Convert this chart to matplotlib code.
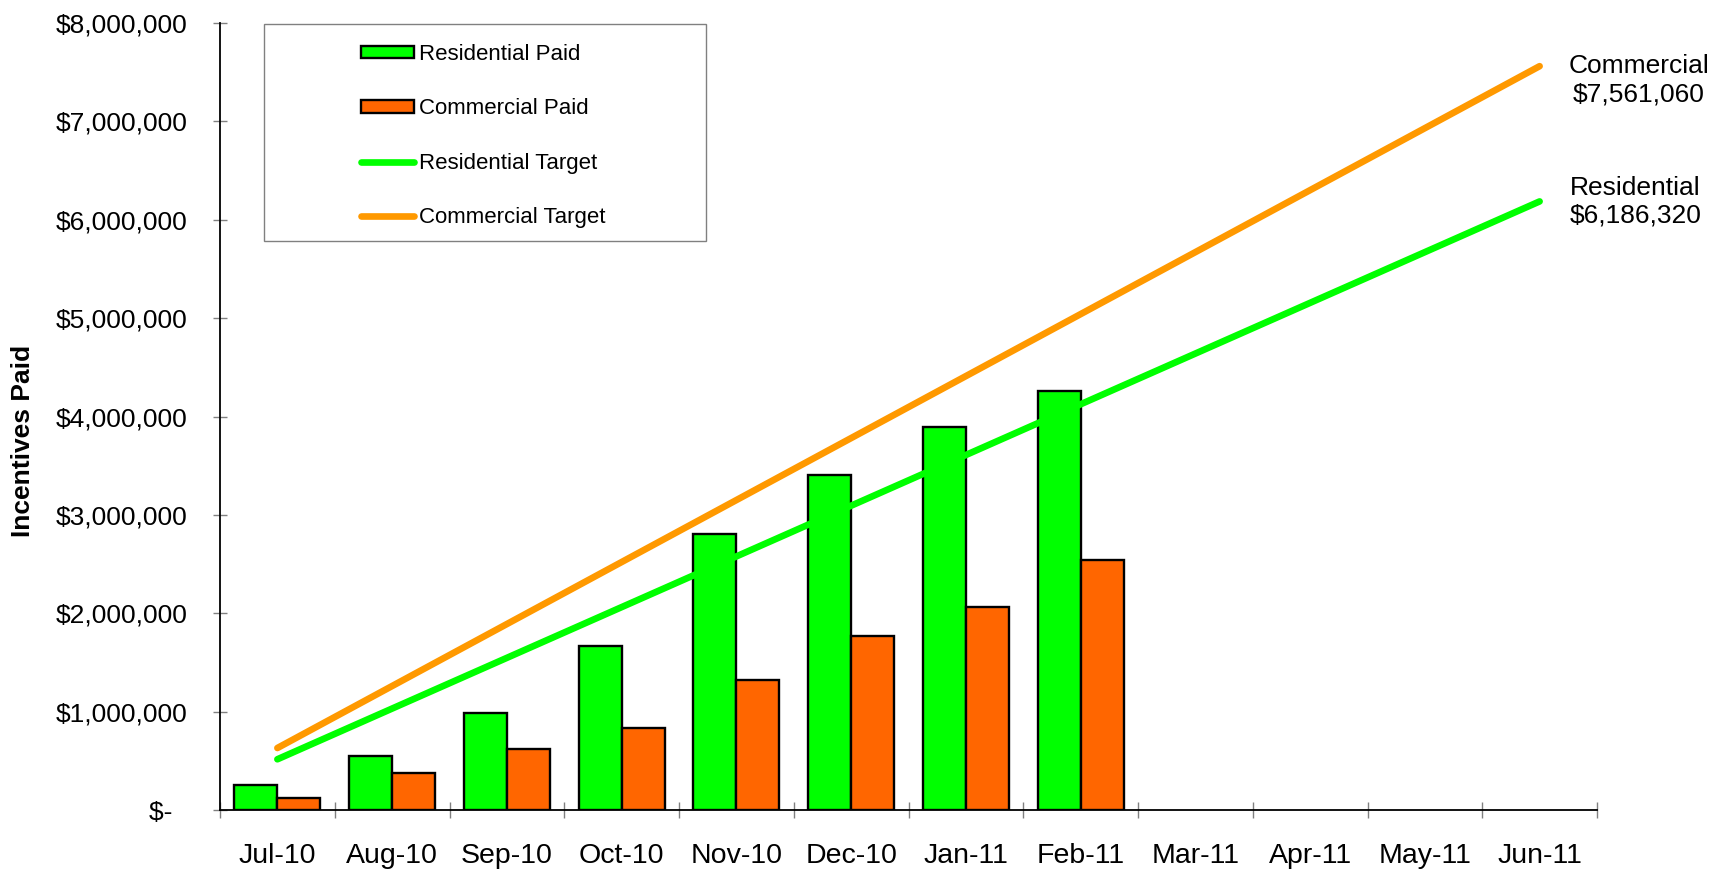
import numpy as np
import matplotlib.pyplot as plt
import matplotlib as mpl
from matplotlib.patches import Rectangle

plt.rcParams["font.family"] = ["Liberation Sans", "DejaVu Sans"]

months = ["Jul-10", "Aug-10", "Sep-10", "Oct-10", "Nov-10", "Dec-10",
          "Jan-11", "Feb-11", "Mar-11", "Apr-11", "May-11", "Jun-11"]

residential_paid = [257000, 547000, 983000, 1669000, 2804000, 3405000,
                    3889000, 4257000]
commercial_paid = [125000, 378000, 625000, 831000, 1324000, 1767000,
                   2064000, 2537000]

residential_target = [515527, 1031053, 1546580, 2062107, 2577633, 3093160,
                      3608687, 4124213, 4639740, 5155267, 5670793, 6186320]
commercial_target = [630088, 1260177, 1890265, 2520353, 3150442, 3780530,
                     4410618, 5040707, 5670795, 6300883, 6930972, 7561060]

GREEN = "#00FF00"
ORANGE = "#FF9900"
RED_ORANGE = "#FF6600"


def money(v, pos=None):
    if v == 0:
        return "$-  "
    return "${:,.0f}".format(v)


def main():
    fig = plt.figure(figsize=(17.28, 8.72), dpi=100)
    ax = fig.add_axes([220 / 1728, 1 - 810 / 872, 1377 / 1728, 787 / 872])

    x = np.arange(len(months))
    xb = np.arange(len(residential_paid))
    w = 0.375

    ax.bar(xb - w / 2, residential_paid, w, color=GREEN, edgecolor="black",
           linewidth=1.7, label="Residential Paid", zorder=2)
    ax.bar(xb + w / 2, commercial_paid, w, color=RED_ORANGE, edgecolor="black",
           linewidth=1.7, label="Commercial Paid", zorder=2)
    ax.plot(x, residential_target, color=GREEN, lw=4.8,
            solid_capstyle="round", label="Residential Target", zorder=3)
    ax.plot(x, commercial_target, color=ORANGE, lw=4.8,
            solid_capstyle="round", label="Commercial Target", zorder=3)

    ax.annotate("Commercial\n${:,}".format(commercial_target[-1]),
                (x[-1], commercial_target[-1]), xytext=(99, -14),
                textcoords="offset pixels", ha="center", va="center",
                multialignment="center", fontsize=19)
    ax.annotate("Residential\n${:,}".format(residential_target[-1]),
                (x[-1], residential_target[-1]), xytext=(96, 0),
                textcoords="offset pixels", ha="center", va="center",
                multialignment="center", fontsize=19)

    ax.set_xlim(-0.5, len(months) - 0.5)
    ax.set_ylim(0, 8000000)
    ax.set_yticks(np.arange(0, 8000001, 1000000))
    ax.yaxis.set_major_formatter(mpl.ticker.FuncFormatter(money))

    ax.set_xticks(np.arange(-0.5, len(months)), [""] * (len(months) + 1))
    ax.set_xticks(x, months, minor=True)

    for s in ["top", "right"]:
        ax.spines[s].set_visible(False)
    ax.spines["left"].set_linewidth(1.3)
    ax.spines["bottom"].set_linewidth(1.3)

    ax.tick_params(axis="y", direction="inout", length=10.6, color="#808080",
                   width=1, labelsize=19, pad=18.4)
    ax.tick_params(axis="x", which="major", direction="inout", length=12.2,
                   color="#808080", width=1)
    ax.tick_params(axis="x", which="minor", length=0, labelsize=20.5, pad=24)

    fig.text(23 / 1728, 1 - 441 / 872, "Incentives Paid", rotation=90,
             ha="center", va="center", fontsize=19, fontweight="bold")

    # legend box
    fig.patches.append(Rectangle((264 / 1728, 1 - 241 / 872), 442 / 1728,
                                 217 / 872, transform=fig.transFigure,
                                 facecolor="none", edgecolor="#808080", lw=1))
    handles, labels = ax.get_legend_handles_labels()
    order = [2, 3, 0, 1]
    ax.legend([handles[i] for i in order], [labels[i] for i in order],
              loc="upper left", bbox_to_anchor=(361 / 1728, 1 - 44 / 872),
              bbox_transform=fig.transFigure, frameon=False, fontsize=16,
              borderpad=0, borderaxespad=0, handlelength=2.4,
              handleheight=0.5, handletextpad=0.2, labelspacing=1.5)

    return fig, ax


if __name__ == "__main__":
    fig, _ = main()
    fig.savefig("out.png", dpi=100)
